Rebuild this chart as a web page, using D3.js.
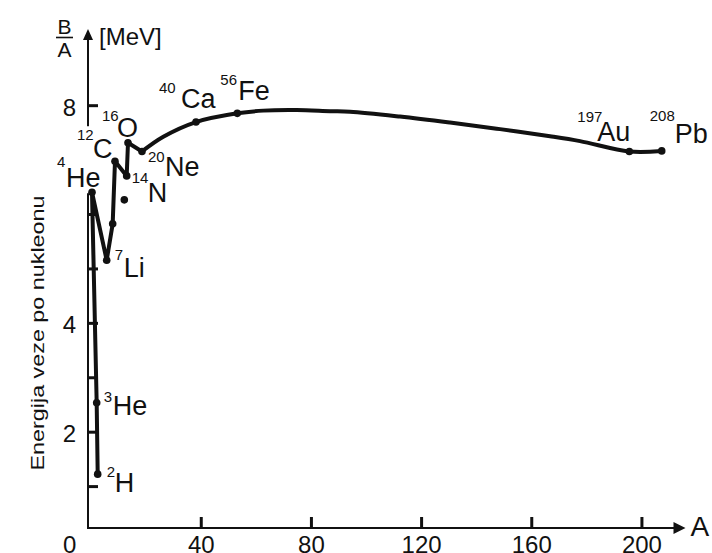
<!DOCTYPE html>
<html lang="en">
<head>
<meta charset="UTF-8">
<title>Energija veze po nukleonu</title>
<script src="https://cdnjs.cloudflare.com/ajax/libs/d3/7.8.5/d3.min.js"></script>
<style>
    body {
        margin: 0;
        background: #ffffff;
        font-family: 'Liberation Sans', Arial, sans-serif;
    }
    svg text {
        fill: #111;
    }
    .axis-line {
        stroke: #111;
        stroke-width: 2px;
    }
    .curve {
        fill: none;
        stroke: #111;
        stroke-width: 4px;
        stroke-linejoin: round;
        stroke-linecap: round;
    }
</style>
</head>
<body>
<div id="chart"></div>
<script>
    // light nuclei, joined by straight segments
    const lightMass = ["2", "3", "4", "7", "", "12", "14", "16", "20"];
    const lightName = ["H", "He", "He", "Li", "", "C", "N", "O", "Ne"];
    const lightA = [2.58, 2.21, 0.51, 5.85, 8.02, 8.86, 13.11, 13.58, 18.66];
    const lightBA = [1.22, 2.53, 6.40, 5.15, 5.82, 6.97, 6.70, 7.31, 7.15];

    // smooth part of the curve from Ne onwards
    const curveA = [18.66, 26.4, 38.27, 53.27, 62.71, 74.84, 86.93, 94.19, 112.35, 130.5, 148.66, 166.81, 177.7, 195.61, 207.37];
    const curveBA = [7.15, 7.42, 7.69, 7.85, 7.90, 7.91, 7.89, 7.88, 7.79, 7.68, 7.56, 7.43, 7.34, 7.15, 7.16];

    // labelled points on the smooth part
    const heavyMass = ["40", "56", "197", "208"];
    const heavyName = ["Ca", "Fe", "Au", "Pb"];
    const heavyA = [38.27, 53.27, 195.61, 207.37];
    const heavyBA = [7.69, 7.85, 7.15, 7.16];

    // the loose dot off the line
    const strayA = [12.24];
    const strayBA = [6.26];

    const xTicks = [40, 80, 120, 160, 200];
    const yTicks = [1, 2, 3, 4, 5, 6, 7, 8];
    const yLabelled = [2, 4, 8];

    // label placement relative to its dot (sup = mass number, el = symbol)
    const labelPos = {
        "2H":    {sx: 9,   sy: 3,   ex: 17,  ey: 18},
        "3He":   {sx: 7,   sy: -1,  ex: 16,  ey: 12},
        "4He":   {sx: -35, sy: -25, ex: -26, ey: -5,  mask: true},
        "7Li":   {sx: 8,   sy: 0,   ex: 17,  ey: 17},
        "12C":   {sx: -38, sy: -21, ex: -22, ey: -3,  mask: true},
        "14N":   {sx: 5,   sy: 7,   ex: 21,  ey: 26},
        "16O":   {sx: -26, sy: -22, ex: -11, ey: -6},
        "20Ne":  {sx: 6,   sy: 11,  ex: 23,  ey: 25},
        "40Ca":  {sx: -37, sy: -29, ex: -15, ey: -14},
        "56Fe":  {sx: -17, sy: -28, ex: 1,   ey: -13},
        "197Au": {sx: -52, sy: -29, ex: -32, ey: -10},
        "208Pb": {sx: -12, sy: -30, ex: 13,  ey: -8}
    };

    const width = 712;
    const height = 553;

    const x = d3.scaleLinear().domain([-0.94, 216]).range([88, 685.5]);
    const y = d3.scaleLinear().domain([0.23, 9.4]).range([528, 29]);

    const svg = d3.select("#chart")
        .append("svg")
        .attr("width", width)
        .attr("height", height);

    const x0 = x(-0.94), y0 = y(0.23);
    const xEnd = x(216), yEnd = y(9.4);

    const axesG = svg.append("g");
    const maskG = svg.append("g");
    const curveG = svg.append("g");
    const labelG = svg.append("g");

    // axis lines with arrow heads
    axesG.append("line").attr("class", "axis-line")
        .attr("x1", x0 - 1).attr("x2", xEnd - 11)
        .attr("y1", y0).attr("y2", y0);
    axesG.append("path")
        .attr("d", `M${xEnd},${y0}L${xEnd - 12},${y0 - 6}L${xEnd - 12},${y0 + 6}Z`)
        .attr("fill", "#111");
    axesG.append("line").attr("class", "axis-line")
        .attr("x1", x0).attr("x2", x0)
        .attr("y1", y0 + 1).attr("y2", yEnd + 9);
    axesG.append("path")
        .attr("d", `M${x0},${yEnd}L${x0 - 5},${yEnd + 11}L${x0 + 5},${yEnd + 11}Z`)
        .attr("fill", "#111");

    const gx = axesG.append("g")
        .attr("transform", `translate(0,${y0})`)
        .call(d3.axisBottom(x).tickValues(xTicks).tickSize(-11).tickPadding(7.5));
    const gy = axesG.append("g")
        .attr("transform", `translate(${x0},0)`)
        .call(d3.axisLeft(y).tickValues(yTicks).tickSize(-10).tickPadding(12)
            .tickFormat(d => yLabelled.includes(d) ? d : ""));

    [gx, gy].forEach(g => {
        g.attr("font-family", null).attr("font-size", null);
        g.select(".domain").remove();
        g.selectAll(".tick line").attr("stroke", "#111").attr("stroke-width", 3);
        g.selectAll(".tick text").attr("fill", "#111").style("font-size", "24px");
    });
    gy.selectAll(".tick text").attr("dy", "0.42em");

    // origin label and axis names
    axesG.append("text")
        .attr("x", x(-7.6)).attr("y", y0 + 24.5)
        .attr("text-anchor", "middle")
        .style("font-size", "24px")
        .text("0");
    axesG.append("text")
        .attr("x", xEnd + 5).attr("y", y0 + 8)
        .style("font-size", "28px")
        .text("A");
    axesG.append("text")
        .attr("x", x0 + 11).attr("y", yEnd + 16)
        .style("font-size", "24px")
        .text("[MeV]");
    axesG.append("text")
        .attr("x", x0 - 23.5).attr("y", yEnd + 5)
        .attr("text-anchor", "middle")
        .style("font-size", "21px")
        .text("B");
    axesG.append("line")
        .attr("x1", x0 - 32).attr("x2", x0 - 15)
        .attr("y1", yEnd + 8.5).attr("y2", yEnd + 8.5)
        .attr("stroke", "#111").attr("stroke-width", 1.6);
    axesG.append("text")
        .attr("x", x0 - 23.5).attr("y", yEnd + 28)
        .attr("text-anchor", "middle")
        .style("font-size", "21px")
        .text("A");

    axesG.append("text")
        .attr("transform", "translate(44,333) rotate(-90)")
        .attr("text-anchor", "middle")
        .attr("textLength", 275)
        .attr("lengthAdjust", "spacingAndGlyphs")
        .style("font-size", "19px")
        .text("Energija veze po nukleonu");

    // curve
    const light = lightA.map((a, i) => ({a, ba: lightBA[i], mass: lightMass[i], name: lightName[i]}));
    const smooth = curveA.map((a, i) => ({a, ba: curveBA[i]}));
    const heavy = heavyA.map((a, i) => ({a, ba: heavyBA[i], mass: heavyMass[i], name: heavyName[i]}));
    const stray = strayA.map((a, i) => ({a, ba: strayBA[i]}));

    curveG.append("path")
        .attr("class", "curve")
        .attr("d", d3.line().x(d => x(d.a)).y(d => y(d.ba))(light));
    curveG.append("path")
        .attr("class", "curve")
        .attr("d", d3.line().x(d => x(d.a)).y(d => y(d.ba)).curve(d3.curveCatmullRom.alpha(0.5))(smooth));

    curveG.selectAll(".dot")
        .data(light.concat(heavy, stray))
        .enter().append("circle")
        .attr("cx", d => x(d.a))
        .attr("cy", d => y(d.ba))
        .attr("r", 3.8)
        .attr("fill", "#111");

    // labels
    light.concat(heavy).filter(d => d.name).forEach(d => {
        const key = d.mass + d.name;
        const p = labelPos[key];
        const px = x(d.a), py = y(d.ba);
        const g = labelG.append("g");
        g.append("text")
            .attr("x", px + p.sx).attr("y", py + p.sy)
            .style("font-size", "15px")
            .text(d.mass);
        g.append("text")
            .attr("x", px + p.ex).attr("y", py + p.ey)
            .style("font-size", "27px")
            .text(d.name);
        if (p.mask) {
            const b = g.node().getBBox();
            maskG.append("rect")
                .attr("x", b.x).attr("y", b.y)
                .attr("width", b.width).attr("height", b.height)
                .attr("fill", "#ffffff");
        }
    });
</script>
</body>
</html>
